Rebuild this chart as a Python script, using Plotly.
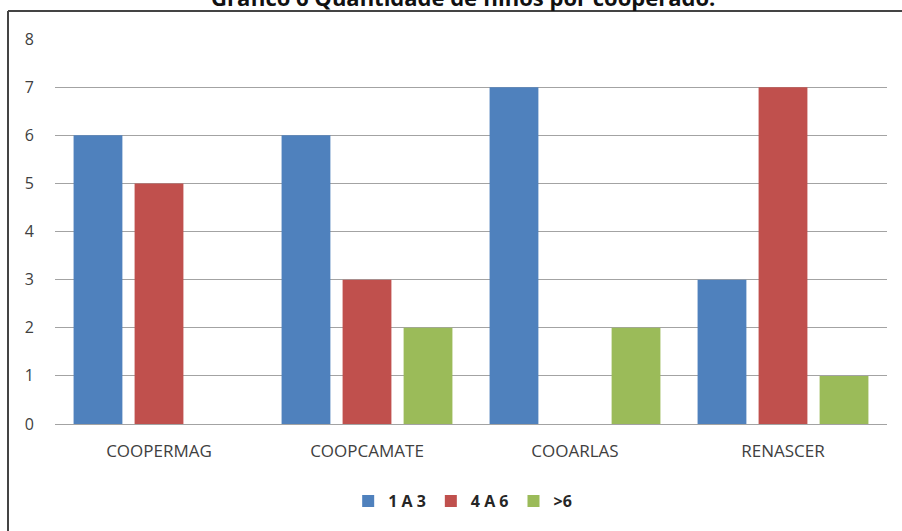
import plotly.graph_objects as go

# Number of children per cooperative member, grouped by cooperative
cooperativas = ["COOPERMAG", "COOPCAMATE", "COOARLAS", "RENASCER"]
faixa_1a3 = [6, 6, 7, 3]
faixa_4a6 = [5, 3, 0, 7]
faixa_mais6 = [0, 2, 2, 1]
y_ticks = [0, 1, 2, 3, 4, 5, 6, 7, 8]

series = [
    ("1 A 3", faixa_1a3, "#4F81BD"),
    ("4 A 6", faixa_4a6, "#C0504D"),
    (">6", faixa_mais6, "#9BBB59"),
]

fig = go.Figure()
for nome, valores, cor in series:
    fig.add_trace(go.Bar(
        x=cooperativas, y=valores, name=nome,
        marker=dict(color=cor, line=dict(width=0)),
    ))

FONT = "Open Sans, sans-serif"

fig.update_layout(
    width=902, height=531,
    margin=dict(l=55, r=15, t=39, b=107),
    paper_bgcolor="white", plot_bgcolor="white",
    barmode="group", bargap=0.12, bargroupgap=0.2,
    font=dict(family=FONT, size=14, color="#595959"),
    showlegend=True,
    legend=dict(
        orientation="h", x=0.49, xanchor="center", y=-0.2, yanchor="middle",
        font=dict(family=FONT, size=16, color="#262626", weight="bold"),
        itemwidth=30, traceorder="normal",
    ),
    xaxis=dict(
        showgrid=False, showline=False, ticks="",
        tickfont=dict(size=17, color="#404040"),
        ticklabelstandoff=15,
    ),
    yaxis=dict(
        range=[0, 8], tickvals=y_ticks,
        showgrid=True, gridcolor="#a3a3a3", gridwidth=1,
        zeroline=True, zerolinecolor="#a3a3a3", zerolinewidth=1,
        showline=False, ticks="",
        tickfont=dict(size=16, color="#404040"),
        ticklabelstandoff=20,
    ),
    annotations=[dict(
        text="<b>Gráfico 6 Quantidade de filhos por cooperado.</b>",
        xref="paper", yref="paper", x=(463 - 55) / 832, y=(424 + 3) / 385,
        xanchor="center", yanchor="middle", showarrow=False,
        font=dict(family=FONT, size=22, color="#111111"),
    )],
    shapes=[
        # frame around the chart (left and top edges)
        dict(type="line", xref="paper", yref="paper",
             x0=(8 - 55) / 832, x1=(8 - 55) / 832,
             y0=(424 - 11) / 385, y1=(424 - 540) / 385,
             line=dict(color="#444444", width=2)),
        dict(type="line", xref="paper", yref="paper",
             x0=(8 - 55) / 832, x1=(910 - 55) / 832,
             y0=(424 - 11) / 385, y1=(424 - 11) / 385,
             line=dict(color="#444444", width=2)),
    ],
)

fig.write_html("out.html")
